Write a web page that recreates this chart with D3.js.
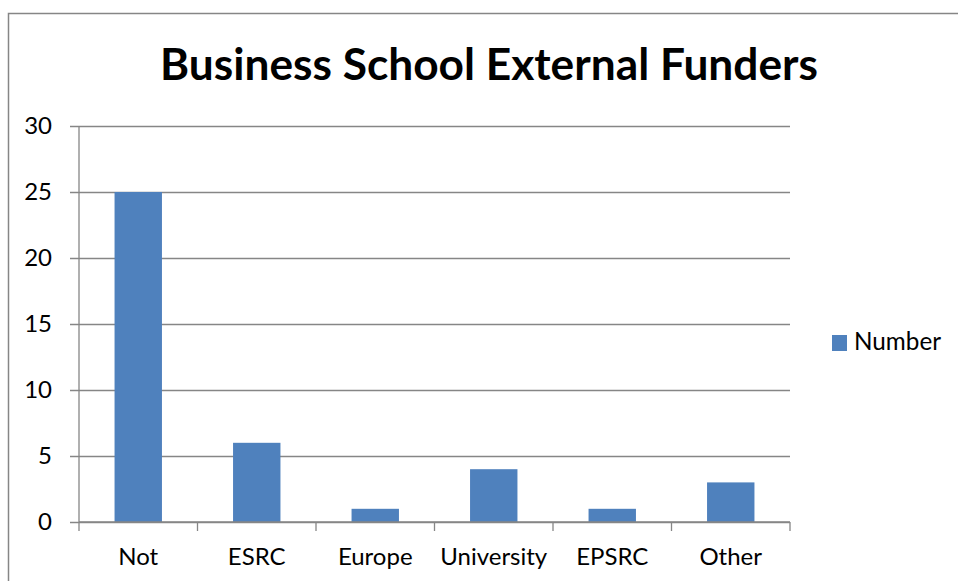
<!DOCTYPE html>
<html>
<head>
<meta charset="utf-8">
<script src="https://cdn.jsdelivr.net/npm/d3@7"></script>
<style>
  html, body { margin: 0; padding: 0; background: #fff; }
  svg { display: block; }
  text { font-family: Lato, "Open Sans", sans-serif; fill: #000; }
</style>
</head>
<body>
<svg id="chart" width="958" height="581"></svg>
<script>
// Chart data
const categories = ["Not", "ESRC", "Europe", "University", "EPSRC", "Other"];
const values = [25, 6, 1, 4, 1, 3];
const yTicks = [0, 5, 10, 15, 20, 25, 30];
const seriesName = "Number";
const chartTitle = "Business School External Funders";

const W = 958, H = 581;
const plot = { left: 79, right: 790, top: 126, bottom: 522 };
const barColor = "#4F81BD";
const axisColor = "#868686";

const svg = d3.select("#chart");

// Outer chart frame
svg.append("rect")
  .attr("x", 8.5).attr("y", 13.5)
  .attr("width", W + 10).attr("height", H + 10)
  .attr("fill", "none").attr("stroke", axisColor).attr("stroke-width", 1.5);

const x = d3.scaleBand().domain(categories).range([plot.left, plot.right]).padding(0);
const y = d3.scaleLinear().domain([0, 30]).range([plot.bottom, plot.top]);

// Scale a text element's font size so its rendered width hits a target
function fitWidth(sel, target) {
  const node = sel.node();
  const fs = parseFloat(sel.attr("font-size"));
  const w = node.getComputedTextLength();
  if (w > 0) sel.attr("font-size", (fs * target / w).toFixed(2));
  return sel;
}

// Horizontal gridlines with left tick stubs
const yAxis = d3.axisLeft(y).tickValues(yTicks)
  .tickSize(-(plot.right - plot.left)).tickSizeOuter(0).tickPadding(27)
  .tickFormat(d3.format("d"));
const gy = svg.append("g").attr("transform", `translate(${plot.left},0)`).call(yAxis);
gy.select(".domain").remove();
gy.selectAll(".tick line")
  .attr("x1", -9)
  .attr("stroke", axisColor).attr("stroke-width", 1.3);
gy.selectAll(".tick text")
  .attr("font-size", 20).attr("fill", "#000")
  .style("font-family", "Lato, 'Open Sans', sans-serif");
// vertical axis line
svg.append("line")
  .attr("x1", plot.left).attr("x2", plot.left)
  .attr("y1", plot.top).attr("y2", plot.bottom)
  .attr("stroke", axisColor).attr("stroke-width", 1.3);

// Bars
const barW = x.bandwidth() * 0.4;
svg.append("g").selectAll("rect")
  .data(categories.map((c, i) => ({ c, v: values[i] })))
  .join("rect")
  .attr("x", d => x(d.c) + (x.bandwidth() - barW) / 2)
  .attr("y", d => y(d.v))
  .attr("width", barW)
  .attr("height", d => y(0) - y(d.v))
  .attr("fill", barColor);

// Category axis with boundary tick marks
const gx = svg.append("g").attr("transform", `translate(0,${plot.bottom})`);
gx.append("line")
  .attr("x1", plot.left).attr("x2", plot.right)
  .attr("stroke", axisColor).attr("stroke-width", 1.3);
const bounds = categories.map(c => x(c)).concat([plot.right]);
gx.selectAll("line.tk").data(bounds).join("line")
  .attr("class", "tk")
  .attr("x1", d => d).attr("x2", d => d)
  .attr("y1", 0).attr("y2", 9)
  .attr("stroke", axisColor).attr("stroke-width", 1.3);
const catLabels = gx.selectAll("text.cat").data(categories).join("text")
  .attr("class", "cat")
  .attr("x", d => x(d) + x.bandwidth() / 2)
  .attr("y", 43)
  .attr("text-anchor", "middle")
  .attr("font-size", 21)
  .text(d => d);
// size labels from the widest one
const uni = catLabels.filter(d => d === "University");
const fsRef = 21 * 107 / uni.node().getComputedTextLength();
catLabels.attr("font-size", fsRef.toFixed(2));
gy.selectAll(".tick text").attr("font-size", fsRef.toFixed(2));

// Title
const title = svg.append("text")
  .attr("x", 489).attr("y", 80)
  .attr("text-anchor", "middle")
  .attr("font-weight", "bold")
  .attr("font-size", 40)
  .text(chartTitle);
fitWidth(title, 658);

// Legend
const lg = svg.append("g");
lg.append("rect").attr("x", 832).attr("y", 335).attr("width", 15).attr("height", 16).attr("fill", barColor);
const lt = lg.append("text").attr("x", 854).attr("y", 350).attr("font-size", fsRef.toFixed(2)).text(seriesName);
fitWidth(lt, 87);
</script>
</body>
</html>
